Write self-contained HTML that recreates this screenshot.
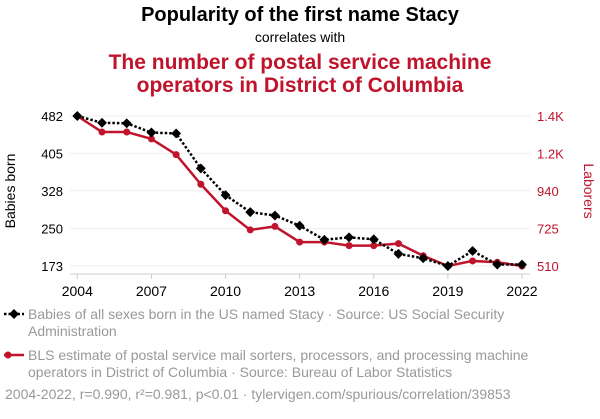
<!DOCTYPE html>
<html><head><meta charset="utf-8"><style>
body{margin:0;background:#fff;font-family:"Liberation Sans",sans-serif;}
svg text{font-family:"Liberation Sans",sans-serif;}
</style></head><body>
<svg id="chart" width="600" height="414" xmlns="http://www.w3.org/2000/svg">
<text x="300" y="21" text-anchor="middle" font-size="20" font-weight="bold" fill="#000">Popularity of the first name Stacy</text>
<text x="300" y="42" text-anchor="middle" font-size="14" fill="#000">correlates with</text>
<text x="300" y="69" text-anchor="middle" font-size="21" font-weight="bold" fill="#c0142d">The number of postal service machine</text>
<text x="300" y="92" text-anchor="middle" font-size="21" font-weight="bold" fill="#c0142d">operators in District of Columbia</text>
<g id="grid"></g><g id="axes"></g><g id="series"></g>
<text transform="translate(15,191) rotate(-90)" text-anchor="middle" font-size="14" fill="#000">Babies born</text>
<text transform="translate(584,191) rotate(90)" text-anchor="middle" font-size="14" fill="#c0142d">Laborers</text>
<g>
<line x1="4" y1="314" x2="24" y2="314" stroke="#000" stroke-width="2.5" stroke-dasharray="2.5,2"/>
<rect x="10.5" y="310.5" width="7" height="7" transform="rotate(45 14 314)" fill="#000"/>
<text x="28" y="319" font-size="14" fill="#999">Babies of all sexes born in the US named Stacy · Source: US Social Security</text>
<text x="28" y="336" font-size="14" fill="#999">Administration</text>
</g>
<g>
<line x1="4" y1="355" x2="24" y2="355" stroke="#c0142d" stroke-width="2.5"/>
<circle cx="8" cy="355" r="3.5" fill="#c0142d"/>
<text x="28" y="360" font-size="14" fill="#999">BLS estimate of postal service mail sorters, processors, and processing machine</text>
<text x="28" y="377" font-size="14" fill="#999">operators in District of Columbia · Source: Bureau of Labor Statistics</text>
</g>
<text x="5" y="399" font-size="14" fill="#999">2004-2022, r=0.990, r²=0.981, p&lt;0.01 · tylervigen.com/spurious/correlation/39853</text>
</svg>
<script>
const years=[2004,2005,2006,2007,2008,2009,2010,2011,2012,2013,2014,2015,2016,2017,2018,2019,2020,2021,2022];
const babies=[482,468,467,448,446,374,319,284,277,256,227,232,228,198,189,173,204,176,176];
const laborers=[1400,1305,1305,1264,1171,995,838,724,745,652,652,631,631,643,571,510,540,532,510];
const leftTicks=[173,250,328,405,482];
const rightTickLabels=["510","725","940","1.2K","1.4K"];
const xTicks=[2004,2007,2010,2013,2016,2019,2022];
const NS="http://www.w3.org/2000/svg";
const X0=77.3,X1=522,Y0=266,Y1=116;
const xs=y=>X0+(y-2004)/(2022-2004)*(X1-X0);
const yl=v=>Y0-(v-173)/(482-173)*(Y0-Y1);
const yr=v=>Y0-(v-510)/(1400-510)*(Y0-Y1);
function mk(tag,attrs,parent){const e=document.createElementNS(NS,tag);for(const k in attrs)e.setAttribute(k,attrs[k]);parent.appendChild(e);return e;}
const grid=document.getElementById('grid'),axes=document.getElementById('axes'),ser=document.getElementById('series');
leftTicks.forEach((t,i)=>{const y=yl(t);
 const g=mk('line',{x1:70,x2:530,y1:y,y2:y,stroke:'#eee','stroke-width':1},grid);
 
 
 const l=mk('text',{x:63,y:y+5,'text-anchor':'end','font-size':13,fill:'#000'},axes);l.textContent=t;
 
 
 const r=mk('text',{x:537,y:y+5,'font-size':13,fill:'#c0142d'},axes);r.textContent=rightTickLabels[i];
 
 
});
const ax=mk('line',{x1:70,x2:530,y1:274,y2:274,stroke:'#ccc','stroke-width':1},axes);


xTicks.forEach(t=>{const x=xs(t);
 mk('line',{x1:x,x2:x,y1:274,y2:279,stroke:'#ccc'},axes);
 const l=mk('text',{x:x,y:296,'text-anchor':'middle','font-size':14,fill:'#000'},axes);l.textContent=t;
 
 
});
const rp=years.map((y,i)=>xs(y)+','+yr(laborers[i])).join(' ');
const rl=mk('polyline',{points:rp,fill:'none',stroke:'#c0142d','stroke-width':2.5},ser);


years.forEach((y,i)=>{const c=mk('circle',{cx:xs(y),cy:yr(laborers[i]),r:3.5,fill:'#c0142d'},ser);
 
 });
const bp=years.map((y,i)=>xs(y)+','+yl(babies[i])).join(' ');
const bl=mk('polyline',{points:bp,fill:'none',stroke:'#000','stroke-width':2.5,'stroke-dasharray':'2.5,2'},ser);


years.forEach((y,i)=>{const cx=xs(y),cy=yl(babies[i]);
 const d=mk('rect',{x:cx-3.5,y:cy-3.5,width:7,height:7,transform:`rotate(45 ${cx} ${cy})`,fill:'#000'},ser);
 
 });
</script>
</body></html>
